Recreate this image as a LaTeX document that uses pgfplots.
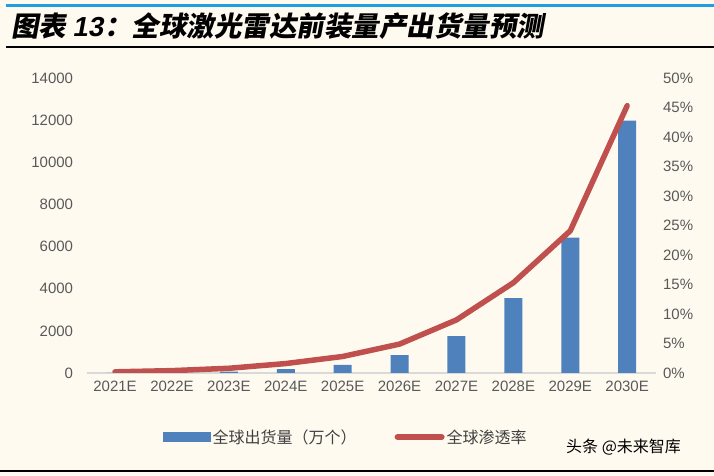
\documentclass[border=0pt]{standalone}
\usepackage{pgfplots}
\pgfplotsset{compat=1.18}
\usepackage{fontspec}
\setmainfont{Liberation Sans}
\newfontfamily\cjk{Noto Sans CJK SC}
\newfontfamily\titlefont{Noto Sans CJK SC}[FakeSlant=0.18]
\definecolor{bg}{HTML}{FFFAF0}
\definecolor{barblue}{HTML}{4F81BD}
\definecolor{linered}{HTML}{C0504D}
\definecolor{ticktxt}{HTML}{595959}
\definecolor{topblue}{HTML}{1E9FE0}
\begin{document}
\begin{tikzpicture}[x=1pt,y=1pt]
\path[use as bounding box, fill=bg] (0,0) rectangle (714,476);
\draw[topblue, line width=2.2pt] (6,470.5) -- (714,470.5);
\draw[black, line width=2pt] (6,428.5) -- (714,428.5);
\draw[black, line width=2.6pt] (0,5) -- (714,5);
\node[anchor=base west, inner sep=0pt] at (11,439) {\titlefont\bfseries\fontsize{27.5}{30}\selectfont 图表 {\fontspec{Liberation Sans}[FakeSlant=0.18]\bfseries 13}\kern1pt：全球激光雷达前装量产出货量预测};
\node[anchor=base west, inner sep=0pt] at (566,23) {\cjk\fontsize{16}{18}\selectfont 头条 @未来智库};
\begin{axis}[
  at={(86.6pt,103pt)}, anchor=south west,
  scale only axis, width=569pt, height=295pt,
  xmin=-0.5, xmax=9.5, ymin=0, ymax=14000,
  axis y line*=left, axis x line*=bottom,
  y axis line style={draw=none},
  x axis line style={draw=black!15, line width=1.5pt},
  xtick={0,...,9},
  xticklabels={2021E,2022E,2023E,2024E,2025E,2026E,2027E,2028E,2029E,2030E},
  ytick={0,2000,...,14000},
  scaled y ticks=false,
  major tick length=0,
  /pgf/number format/assume math mode=true,
  /pgf/number format/1000 sep={},
  tick label style={font=\fontsize{15}{17}\selectfont, text=ticktxt},
  yticklabel style={xshift=-10pt},
  xticklabel style={yshift=-4pt},
]
\addplot[ybar, bar width=18pt, fill=barblue, draw=none] coordinates {
(0,10) (1,30) (2,60) (3,180) (4,380) (5,850) (6,1750) (7,3550) (8,6420) (9,11980)};
\end{axis}
\begin{axis}[
  at={(86.6pt,103pt)}, anchor=south west,
  scale only axis, width=569pt, height=295pt,
  xmin=-0.5, xmax=9.5, ymin=0, ymax=50,
  axis y line*=right, axis x line=none,
  y axis line style={draw=none},
  ytick={0,5,...,50},
  yticklabel={\pgfmathprintnumber{\tick}\%},
  major tick length=0,
  /pgf/number format/assume math mode=true,
  tick label style={font=\fontsize{15}{17}\selectfont, text=ticktxt},
  yticklabel style={xshift=4pt},
  legend columns=2,
  legend style={at={(0.129,-0.217)}, anchor=west, draw=none, fill=none,
    font=\cjk\fontsize{16}{18}\selectfont, text=black!75,
    /tikz/every even column/.append style={column sep=36pt},
    nodes={inner sep=2pt}},
]
\addlegendimage{legend image code/.code={\fill[barblue] (0pt,-4.5pt) rectangle (47pt,4.5pt);}}
\addlegendentry{全球出货量（万个）}
\addplot[linered, line width=5.5pt, line join=round, line cap=round,
  legend image code/.code={\draw[linered, line width=6pt, line cap=round] (3pt,0pt) -- (47pt,0pt);}]
  coordinates {(0,0.2) (1,0.4) (2,0.8) (3,1.6) (4,2.8) (5,4.9) (6,9.0) (7,15.3) (8,24.1) (9,45.3)};
\addlegendentry{全球渗透率}
\end{axis}
\end{tikzpicture}
\end{document}
